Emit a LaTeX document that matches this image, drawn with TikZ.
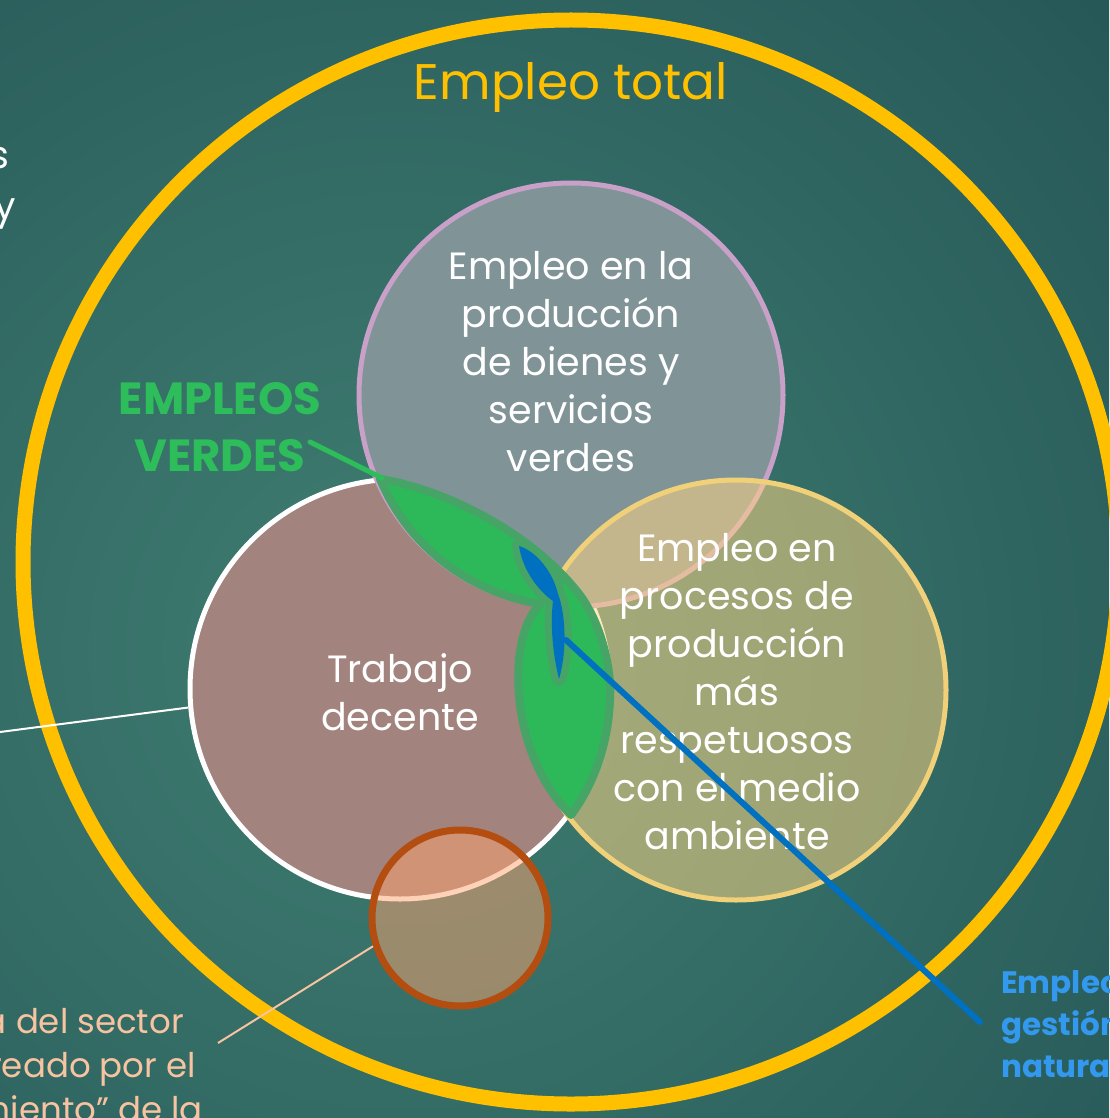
\documentclass[tikz,border=0pt]{standalone}
\usepackage{fontspec}
\setmainfont{Poppins}
\usetikzlibrary{shapes.geometric}
\definecolor{bgin}{RGB}{64,126,114}
\definecolor{bgout}{RGB}{34,82,84}
\definecolor{ringyel}{RGB}{255,192,0}
\definecolor{topfill}{RGB}{128,148,152}
\definecolor{topline}{RGB}{200,160,200}
\definecolor{leftfill}{RGB}{162,131,126}
\definecolor{rightfill}{RGB}{255,214,130}
\definecolor{rightline}{RGB}{240,208,120}
\definecolor{gfill}{RGB}{45,184,90}
\definecolor{gdark}{RGB}{70,164,102}
\definecolor{bfill}{RGB}{0,112,192}
\definecolor{btext}{RGB}{51,153,238}
\definecolor{peach}{RGB}{248,195,160}
\definecolor{orfill}{RGB}{255,164,112}
\definecolor{orline}{RGB}{180,78,16}
\definecolor{vtext}{RGB}{46,189,91}
\begin{document}
\begin{tikzpicture}[x=1pt,y=-1pt,
  ctext/.style={text=white, align=center, inner sep=0, font=\fontsize{38}{48}\selectfont},
  sidetext/.style={inner sep=0, anchor=base east, font=\fontsize{38}{48}\selectfont},
  circ/.style={circle, inner sep=0, line width=5pt, minimum size=#1},
  greenpath/.style={insert path={(380,479) .. controls (440,488) and (530,530) .. (580,595)
     .. controls (602,625) and (612,670) .. (610,700)
     .. controls (608,750) and (590,790) .. (571,815)
     .. controls (535,780) and (514,720) .. (519,660)
     .. controls (522,630) and (530,615) .. (540,604)
     .. controls (468,592) and (408,546) .. cycle}},
  bluepath/.style={insert path={(519,546) .. controls (536,551) and (553,572) .. (558,594)
     .. controls (566,615) and (567,652) .. (559,679)
     .. controls (553,655) and (550,625) .. (553,601)
     .. controls (540,592) and (523,572) .. cycle}}]
\useasboundingbox (0,0) rectangle (1109,1118);
\begin{scope}
  \clip (0,0) rectangle (1109,1118);
  \shade[inner color=bgin, outer color=bgout] (400,650) circle (1100);
\end{scope}
% total employment ring
\node[ellipse, draw=ringyel, line width=15pt, minimum width=1096pt, minimum height=1084pt, inner sep=0] (total) at (571,562) {};
% three circles
\node[circ=420pt, draw=white, fill=leftfill] (left) at (400,689) {};
\node[circ=424pt, draw=topline, fill=topfill] (top) at (571,395) {};
\node[circ=420pt, draw=rightline, fill=rightfill, fill opacity=0.53] (right) at (736,690) {};
% green jobs shape
\path[greenpath, fill=gfill, draw=gdark, line width=8pt, line join=round];
% natural resources shape
\path[bluepath, draw=gdark, fill=gdark, line width=14pt, line join=round];
\path[bluepath, fill=bfill];
% small orange circle
\node[circle, inner sep=0, minimum size=176pt, draw=orline, line width=7pt, fill=orfill, fill opacity=0.5] (informal) at (460,918) {};
% texts
\node[inner sep=0, anchor=base, text=ringyel, font=\fontsize{50}{60}\selectfont] (ttotal) at (571,100) {Empleo total};
\node[ctext] (ttop) at (571,362) {Empleo en la\\producción\\de bienes y\\servicios\\verdes};
\node[ctext] (tleft) at (400,692) {Trabajo\\decente};
\node[ctext] (tright) at (737,692) {Empleo en\\procesos de\\producción\\más\\respetuosos\\con el medio\\ambiente};
\node[text=vtext, align=center, inner sep=0, font=\bfseries\fontsize{45}{57}\selectfont] (verdes) at (220,427) {EMPLEOS\\VERDES};
\node[sidetext, text=white] (ts1) at (10,168) {s};
\node[sidetext, text=white] (ts2) at (16,219) {y};
\node[sidetext, text=peach, font=\fontsize{34}{40}\selectfont] (tp1) at (184,1033) {economía del sector};
\node[sidetext, text=peach, font=\fontsize{34}{40}\selectfont] (tp2) at (196,1077) {creado por el};
\node[sidetext, text=peach, font=\fontsize{34}{40}\selectfont] (tp3) at (203,1121) {“enverdecimiento” de la};
\node[anchor=base west, inner sep=0, text=btext, align=left, font=\bfseries\fontsize{31}{42}\selectfont] (tblue) at (1001,1077) {Empleo en la\\gestión de recursos\\naturales};
% connectors
\coordinate (wl) at (0,732);
\coordinate (pl) at (218,1043);
\coordinate (gl) at (310,442);
\coordinate (gtip) at (382,478);
\coordinate (bstart) at (566,640);
\coordinate (bend) at (980,1022);
\draw[white, line width=2pt] (wl) -- (left.185);
\draw[peach, line width=2pt] (pl) -- (informal.198);
\draw[vtext, line width=5pt, line cap=round] (gl) -- (gtip);
\draw[bfill, line width=6pt, line cap=round] (bstart) -- (bend);
\end{tikzpicture}
\end{document}
